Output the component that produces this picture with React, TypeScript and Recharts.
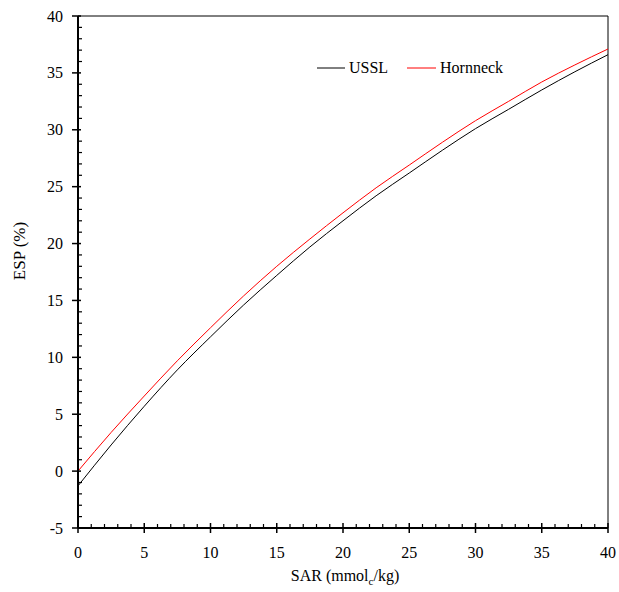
import React from "react";
import { LineChart, Line, XAxis, YAxis, ReferenceLine } from "recharts";

const sar = [0, 2.5, 5, 7.5, 10, 12.5, 15, 17.5, 20, 22.5, 25, 27.5, 30, 32.5, 35, 37.5, 40];
const ussl = [-1.3, 2.3, 5.7, 8.9, 11.8, 14.6, 17.2, 19.7, 22.0, 24.2, 26.2, 28.2, 30.1, 31.8, 33.5, 35.1, 36.6];
const hornneck = [0, 3.4, 6.6, 9.7, 12.6, 15.4, 18.0, 20.4, 22.7, 24.9, 26.9, 28.9, 30.8, 32.5, 34.2, 35.7, 37.1];

const xTicks = Array.from({ length: 41 }, (_, i) => i);
const yTicks = Array.from({ length: 46 }, (_, i) => i - 5);

const FONT = "'Liberation Serif', 'Times New Roman', serif";

const data = sar.map((s, i) => ({ sar: s, ussl: ussl[i], hornneck: hornneck[i] }));

function XTick(props: any) {
  const { x, y, payload } = props;
  const v = payload.value;
  const major = v % 5 === 0;
  return (
    <g>
      {major ? (
        <line x1={x} x2={x} y1={y - 5} y2={y + 5} stroke="#000" strokeWidth={1.5} />
      ) : (
        <line x1={x} x2={x} y1={y - 4} y2={y} stroke="#000" strokeWidth={1.2} />
      )}
      {major && (
        <text x={x} y={y + 30} textAnchor="middle" fontFamily={FONT} fontSize={16} fill="#000">
          {v}
        </text>
      )}
    </g>
  );
}

function YTick(props: any) {
  const { x, y, payload } = props;
  const v = payload.value;
  const major = v % 5 === 0;
  return (
    <g>
      {major ? (
        <line x1={x - 6} x2={x + 3} y1={y} y2={y} stroke="#000" strokeWidth={1.5} />
      ) : (
        <line x1={x} x2={x + 4} y1={y} y2={y} stroke="#000" strokeWidth={1.2} />
      )}
      {major && (
        <text x={x - 15} y={y} dy={5.5} textAnchor="end" fontFamily={FONT} fontSize={16} fill="#000">
          {v}
        </text>
      )}
    </g>
  );
}

function LegendBox() {
  return (
    <svg width={240} height={24} style={{ display: "block" }}>
      <line x1={0} x2={28} y1={12} y2={12} stroke="#000" strokeWidth={1} />
      <text x={32} y={17} fontFamily={FONT} fontSize={16} fill="#000">USSL</text>
      <line x1={90} x2={119} y1={12} y2={12} stroke="#ff0000" strokeWidth={1} />
      <text x={123} y={17} fontFamily={FONT} fontSize={16} fill="#000">Hornneck</text>
    </svg>
  );
}

export default function App() {
  return (
    <div
      style={{
        position: "fixed",
        left: 0,
        top: 0,
        width: 619,
        height: 592,
        fontFamily: FONT,
        background: "#fff",
      }}
    >
      <LineChart
        width={619}
        height={592}
        data={data}
        margin={{ top: 16, right: 11, left: 18, bottom: 34 }}
      >
        <XAxis
          dataKey="sar"
          type="number"
          domain={[0, 40]}
          ticks={xTicks}
          interval={0}
          tickSize={0}
          tickMargin={0}
          tick={<XTick />}
          height={30}
          axisLine={{ stroke: "#000", strokeWidth: 2 }}
          tickLine={false}
        />
        <YAxis
          type="number"
          domain={[-5, 40]}
          ticks={yTicks}
          interval={0}
          tickSize={0}
          tickMargin={0}
          tick={<YTick />}
          width={60}
          axisLine={{ stroke: "#000", strokeWidth: 2 }}
          tickLine={false}
        />
        <ReferenceLine y={40} stroke="#000" strokeWidth={1} />
        <ReferenceLine x={40} stroke="#000" strokeWidth={1} />
        <Line
          dataKey="ussl"
          name="USSL"
          type="monotone"
          stroke="#000"
          strokeWidth={1}
          dot={false}
          isAnimationActive={false}
        />
        <Line
          dataKey="hornneck"
          name="Hornneck"
          type="monotone"
          stroke="#ff0000"
          strokeWidth={1}
          dot={false}
          isAnimationActive={false}
        />
      </LineChart>
      <div style={{ position: "absolute", left: 317, top: 56 }}>
        <LegendBox />
      </div>
      <div
        style={{
          position: "absolute",
          left: 20,
          top: 251,
          transform: "translate(-50%, -50%) rotate(-90deg)",
          fontSize: 17,
          whiteSpace: "nowrap",
        }}
      >
        ESP (%)
      </div>
      <div
        style={{
          position: "absolute",
          left: 345,
          top: 577,
          transform: "translate(-50%, -50%)",
          fontSize: 16,
          whiteSpace: "nowrap",
        }}
      >
        SAR (mmol<sub style={{ fontSize: 11 }}>c</sub>/kg)
      </div>
    </div>
  );
}
